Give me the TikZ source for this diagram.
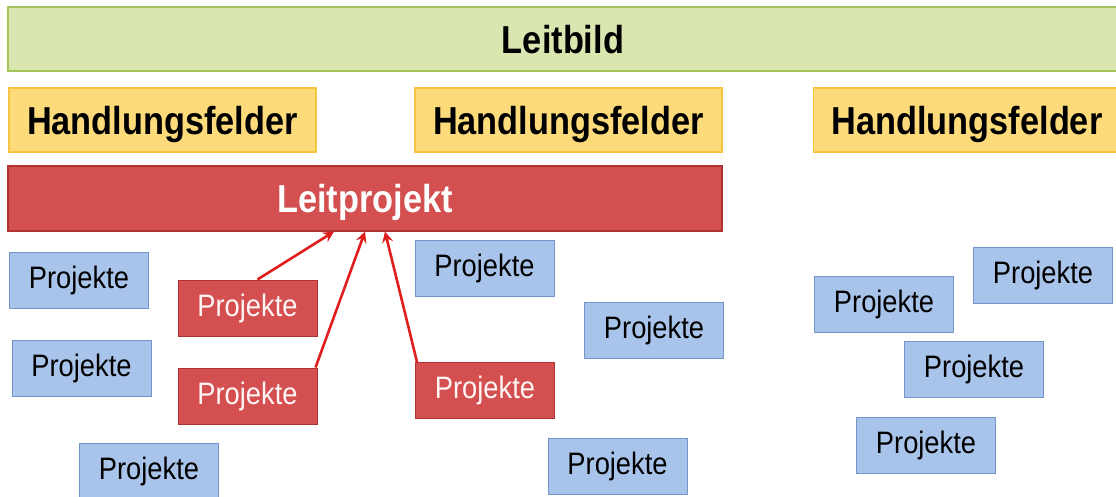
\documentclass[tikz,border=0pt]{standalone}
\usepackage{fontspec}
\setmainfont{Liberation Sans}[FakeStretch=0.88]
\usetikzlibrary{arrows.meta}
\definecolor{lbfill}{HTML}{DAE6B0}
\definecolor{lbdraw}{HTML}{A4C45A}
\definecolor{hffill}{HTML}{FDDA7A}
\definecolor{hfdraw}{HTML}{F6C540}
\definecolor{rdfill}{HTML}{D44F4F}
\definecolor{rddraw}{HTML}{B03333}
\definecolor{blfill}{HTML}{A9C4EA}
\definecolor{bldraw}{HTML}{7395C9}
\definecolor{arr}{HTML}{E01E1E}
\tikzset{
  big/.style={font=\fontsize{39}{42}\selectfont\bfseries, inner sep=0pt, line width=1.2pt, text height=29pt, text depth=-2pt},
  leitbox/.style={big, fill=lbfill, draw=lbdraw, minimum width=1110pt, minimum height=64pt},
  hfbox/.style={big, fill=hffill, draw=hfdraw, minimum width=307pt, minimum height=64pt},
  lpbox/.style={big, fill=rdfill, draw=rddraw, text=white, minimum width=714pt, minimum height=65pt},
  proj/.style={font=\fontsize{31}{33}\selectfont, inner sep=0pt, line width=1pt, minimum width=139pt, minimum height=56pt},
  blue/.style={proj, fill=blfill, draw=bldraw, text=black},
  redp/.style={proj, fill=rdfill, draw=rddraw, text=white!96!red},
  link/.style={draw=arr, line width=2.6pt, -{Stealth[length=11pt,width=11pt,inset=4pt]}}
}
\begin{document}
\begin{tikzpicture}[x=1pt,y=-1pt]
\useasboundingbox (0,0) rectangle (1116,497);
\node[leitbox] (leitbild) at (563,39) {Leitbild};
\node[hfbox] (hf1) at (162.5,120) {Handlungsfelder};
\node[hfbox] (hf2) at (568.5,120) {Handlungsfelder};
\node[hfbox] (hf3) at (967,120) {Handlungsfelder};
\node[lpbox] (lp) at (365,198.5) {Leitprojekt};
% blue projects
\node[blue] (b1) at (79,280) {Projekte};
\node[blue] (b2) at (81.5,368.5) {Projekte};
\node[blue] (b3) at (149,471) {Projekte};
\node[blue] (b4) at (484.5,268.5) {Projekte};
\node[blue] (b5) at (654,330) {Projekte};
\node[blue] (b6) at (617.5,466) {Projekte};
\node[blue] (b7) at (884,304) {Projekte};
\node[blue] (b8) at (1043,275.5) {Projekte};
\node[blue] (b9) at (974,369.5) {Projekte};
\node[blue] (b10) at (926,445) {Projekte};
% red projects
\node[redp] (r1) at (247.5,308) {Projekte};
\node[redp] (r2) at (247.5,396) {Projekte};
\node[redp] (r3) at (485,390.5) {Projekte};
% arrows
\draw[link] ([xshift=10pt]r1.north) -- ([xshift=-31pt]lp.south);
\draw[link] ([xshift=-2pt]r2.north east) -- ([xshift=0pt]lp.south);
\draw[link] ([xshift=2pt]r3.north west) -- ([xshift=20pt]lp.south);
\end{tikzpicture}
\end{document}
